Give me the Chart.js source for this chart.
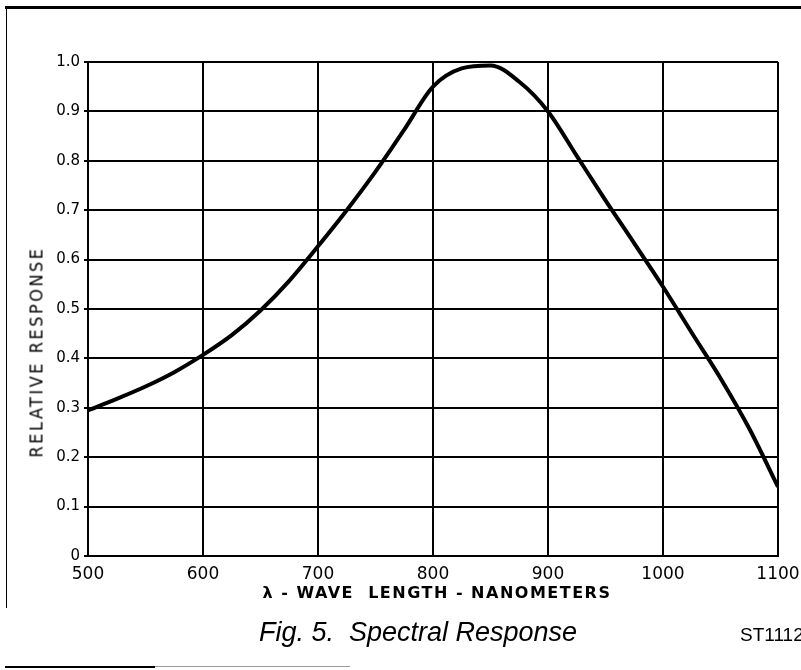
<!DOCTYPE html>
<html>
<head>
<meta charset="utf-8">
<script src="https://cdn.jsdelivr.net/npm/chart.js"></script>
<style>
    html, body { margin: 0; padding: 0; background: #fff; }
    #wrap { position: relative; width: 801px; height: 670px; overflow: hidden; }
    #chart { position: absolute; left: 0; top: 0; }
    .frameTop { position: absolute; left: 5px; top: 6px; width: 796px; height: 3px; background: #000; }
    .frameLeft { position: absolute; left: 6px; top: 8px; width: 1px; height: 600px; background: #000; }
    .frameBottom { position: absolute; left: 5px; top: 666px; width: 150px; height: 2px; background: #000; }
    .frameBottom2 { position: absolute; left: 155px; top: 666px; width: 195px; height: 1px; background: #999; }
    .ytitle {
        position: absolute; left: 36px; top: 352px;
        transform: translate(-50%, -50%) rotate(-90deg);
        font: 18px "DejaVu Sans Condensed", "DejaVu Sans", sans-serif; letter-spacing: 2.5px; white-space: nowrap;
    }
    .xtitle {
        position: absolute; left: 437px; top: 592px; transform: translate(-50%, -50%);
        font: bold 16px "DejaVu Sans", sans-serif; letter-spacing: 1.5px; white-space: pre;
    }
    .caption {
        position: absolute; left: 418px; top: 632px; transform: translate(-50%, -50%);
        font: italic 27px "Liberation Sans", Arial, sans-serif; white-space: pre;
    }
    .code {
        position: absolute; left: 740px; top: 635px; transform: translateY(-50%);
        font: 19px "Liberation Sans", Arial, sans-serif; white-space: nowrap;
    }
</style>
</head>
<body>
<div id="wrap">
    <canvas id="chart" width="801" height="670"></canvas>
    <div class="frameTop"></div>
    <div class="frameLeft"></div>
    <div class="frameBottom"></div>
    <div class="frameBottom2"></div>
    <div class="ytitle">RELATIVE RESPONSE</div>
    <div class="xtitle">λ - WAVE  LENGTH - NANOMETERS</div>
    <div class="caption">Fig. 5.  Spectral Response</div>
    <div class="code">ST1112</div>
</div>
<script>
// Curve (wavelength in nm, relative response)
const wavelengths = [500, 525, 550, 575, 600, 625, 650, 675, 700, 725, 750, 775, 800,
    825, 850, 875, 900, 925, 950, 975, 1000, 1025, 1050, 1075, 1100];
const response = [0.295, 0.318, 0.343, 0.372, 0.407, 0.447, 0.497, 0.557, 0.627, 0.70, 0.778, 0.863, 0.95,
    0.987, 0.993, 0.96, 0.90, 0.81, 0.72, 0.633, 0.545, 0.452, 0.36, 0.258, 0.14];

// Axis ticks
const xTicks = [500, 600, 700, 800, 900, 1000, 1100];
const yTicks = [0, 0.1, 0.2, 0.3, 0.4, 0.5, 0.6, 0.7, 0.8, 0.9, 1.0];
const yTickLabels = ['0', '0.1', '0.2', '0.3', '0.4', '0.5', '0.6', '0.7', '0.8', '0.9', '1.0'];

const points = wavelengths.map((w, i) => ({ x: w, y: response[i] }));

/**
 * Fix scale sizes so the plot area sits where the original one does
 */
function fixY(scale) {
    scale.width = 88;
    scale.paddingTop = 0;
    scale.paddingBottom = 0;
}
function fixX(scale) {
    scale.height = 40;
    scale.paddingLeft = 0;
    scale.paddingRight = 0;
}

const ctx = document.getElementById('chart').getContext('2d');
new Chart(ctx, {
    type: 'line',
    data: {
        datasets: [{
            data: points,
            borderColor: '#000',
            borderWidth: 4,
            pointRadius: 0,
            cubicInterpolationMode: 'monotone',
            fill: false
        }]
    },
    options: {
        responsive: false,
        animation: false,
        layout: { padding: { left: 0, top: 62, right: 23, bottom: 74 } },
        plugins: { legend: { display: false }, tooltip: { enabled: false } },
        scales: {
            x: {
                type: 'linear',
                min: xTicks[0],
                max: xTicks[xTicks.length - 1],
                afterFit: fixX,
                afterBuildTicks: scale => { scale.ticks = xTicks.map(v => ({ value: v })); },
                grid: { color: '#000', lineWidth: 2, drawTicks: false },
                border: { color: '#000', width: 2 },
                ticks: {
                    color: '#000',
                    padding: 8,
                    maxRotation: 0,
                    autoSkip: false,
                    font: { family: 'DejaVu Sans', size: 17 },
                    callback: v => String(v)
                }
            },
            y: {
                min: 0,
                max: 1,
                afterFit: fixY,
                afterBuildTicks: scale => { scale.ticks = yTicks.map(v => ({ value: v })); },
                grid: { color: '#000', lineWidth: 2, tickLength: 4 },
                border: { color: '#000', width: 2 },
                ticks: {
                    color: '#000',
                    padding: 4,
                    autoSkip: false,
                    font: { family: 'DejaVu Sans', size: 15 },
                    callback: v => {
                        const i = yTicks.findIndex(t => Math.abs(t - v) < 1e-6);
                        return i >= 0 ? yTickLabels[i] : '';
                    }
                }
            }
        }
    }
});
</script>
</body>
</html>
